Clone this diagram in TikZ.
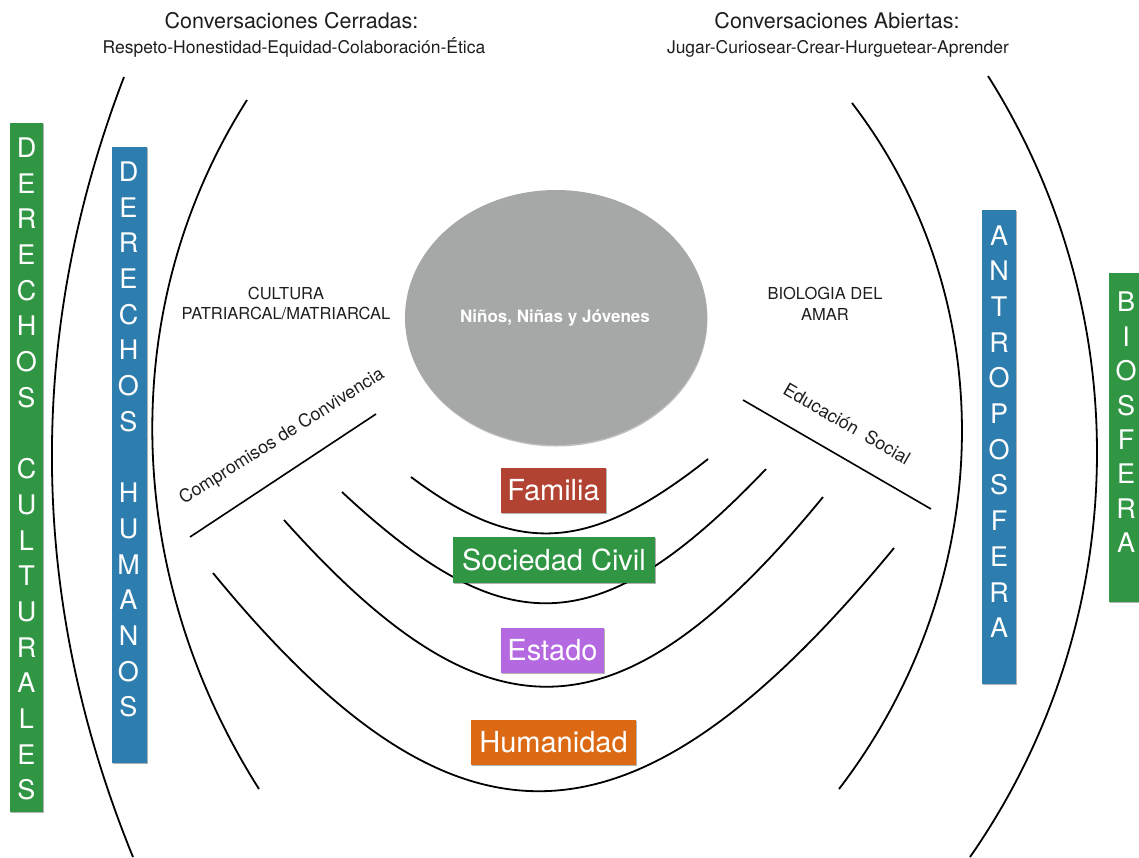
\documentclass[tikz,border=0pt]{standalone}
\usepackage{fontspec}
\setmainfont{TeX Gyre Heros}
\usetikzlibrary{shapes.geometric,shadows}

\definecolor{bandgreen}{RGB}{48,150,68}
\definecolor{bandblue}{RGB}{46,125,175}
\definecolor{famred}{RGB}{178,66,50}
\definecolor{estpurple}{RGB}{180,105,225}
\definecolor{humorange}{RGB}{220,105,20}
\definecolor{coregray}{RGB}{165,168,167}
\definecolor{ink}{RGB}{30,30,30}

\begin{document}
\begin{tikzpicture}[x=1pt,y=-1pt,
  ring/.style={line width=1.8pt, draw=black},
  rule/.style={line width=1.6pt, draw=black},
  tag/.style={inner sep=0pt, outer sep=0pt,
    drop shadow={shadow xshift=1pt, shadow yshift=-1.2pt, opacity=0.3, fill=black}},
  tagtext/.style={text=white, font=\fontsize{29}{29}\selectfont},
  pillar/.style={tag, minimum width=#1},
  pillartext/.style={text=white, align=center, inner sep=0pt,
    font=\fontsize{27}{#1}\selectfont},
  heading/.style={text=ink, anchor=base, font=\fontsize{21.5}{24}\selectfont},
  subheading/.style={text=ink, anchor=base, font=\fontsize{17.5}{20}\selectfont},
  note/.style={text=ink, align=center, inner sep=0pt, font=\fontsize{16.5}{20.5}\selectfont},
  slanted/.style={text=ink, inner sep=0pt, font=\fontsize{18}{20}\selectfont}]

\useasboundingbox (0,0) rectangle (1139,857);
\clip (0,0) rectangle (1139,857);

% headings
\node[heading] (cerrT) at (291.5,28.5) {Conversaciones Cerradas:};
\node[subheading] (cerrS) at (294,53.5) {Respeto-Honestidad-Equidad-Colaboración-Ética};
\node[heading] (abiT) at (837,28.5) {Conversaciones Abiertas:};
\node[subheading] (abiS) at (838,53.5) {Jugar-Curiosear-Crear-Hurguetear-Aprender};

% outer and inner rings
\draw[ring] (124,77) .. controls (25,335) and (28,600) .. (133,857);
\draw[ring] (988,76) .. controls (1139.7,316) and (1132.4,624) .. (970,857);
\draw[ring] (247,100) .. controls (113,311) and (125,578) .. (259,789);
\draw[ring] (852,103) .. controls (1007,305) and (994,587) .. (839,789);

% nested layers below the centre
\draw[ring] (411,477) .. controls (515,555) and (587,555) .. (708,459);
\draw[ring] (342,492) .. controls (505,644) and (599,644) .. (766,469);
\draw[ring] (284,520) .. controls (486,746) and (619,746) .. (823,497);
\draw[ring] (213,573) .. controls (455,868) and (630,868) .. (894,548);

% centre
\node[ellipse, fill=coregray, minimum width=302, minimum height=255, inner sep=0pt,
  drop shadow={shadow xshift=0.5pt, shadow yshift=-1.5pt, opacity=0.25, fill=black}]
  (core) at (556,317.5) {};
\node[anchor=base, text=white, font=\fontsize{17}{20}\selectfont\bfseries] (coreT) at (555,322) {Niños, Niñas y Jóvenes};

% side notes
\node[note] (cultura) at (286,303.6) {CULTURA\\PATRIARCAL/MATRIARCAL};
\node[note] (biologia) at (825,304) {BIOLOGIA DEL\\AMAR};

% slanted rules with their labels
\coordinate (compA) at (190,537);
\coordinate (compB) at (376,414);
\draw[rule] (compA) -- (compB);
\node[slanted, rotate=32.3] (compT) at (282,437) {Compromisos de Convivencia};
\coordinate (eduA) at (743,400);
\coordinate (eduB) at (931,509);
\draw[rule] (eduA) -- (eduB);
\node[slanted, rotate=-30] (eduT) at (847,424) {Educación\ \ Social};

% layer tags
\node[tag, fill=famred, minimum width=105, minimum height=45, tagtext] (familia) at (553.5,490.5) {Familia};
\node[tag, fill=bandgreen, minimum width=202, minimum height=46, tagtext] (sociedad) at (554,560) {Sociedad Civil};
\node[tag, fill=estpurple, minimum width=103, minimum height=45, tagtext] (estado) at (552.5,650.5) {Estado};
\node[tag, fill=humorange, minimum width=165, minimum height=45, tagtext] (humanidad) at (553.5,742.5) {Humanidad};

% vertical pillars
\node[pillar=33, fill=bandgreen, minimum height=689] (dc) at (26.5,467.5) {};
\node[pillartext=35.7] (dcT) at (26.5,469) {D\\E\\R\\E\\C\\H\\O\\S\\[35.7pt]C\\U\\L\\T\\U\\R\\A\\L\\E\\S};
\node[pillar=35, fill=bandblue, minimum height=616] (dh) at (129.5,455) {};
\node[pillartext=35.7] (dhT) at (128.5,439.5) {D\\E\\R\\E\\C\\H\\O\\S\\[35.7pt]H\\U\\M\\A\\N\\O\\S};
\node[pillar=34, fill=bandblue, minimum height=474] (antro) at (999,447) {};
\node[pillartext=35.7] (antroT) at (999,431.5) {A\\N\\T\\R\\O\\P\\O\\S\\F\\E\\R\\A};
\node[pillar=35, fill=bandgreen, minimum height=329] (bio) at (1126.5,437.5) {};
\node[pillartext=34.4] (bioT) at (1126,422.5) {B\\I\\O\\S\\F\\E\\R\\A};

\end{tikzpicture}
\end{document}
